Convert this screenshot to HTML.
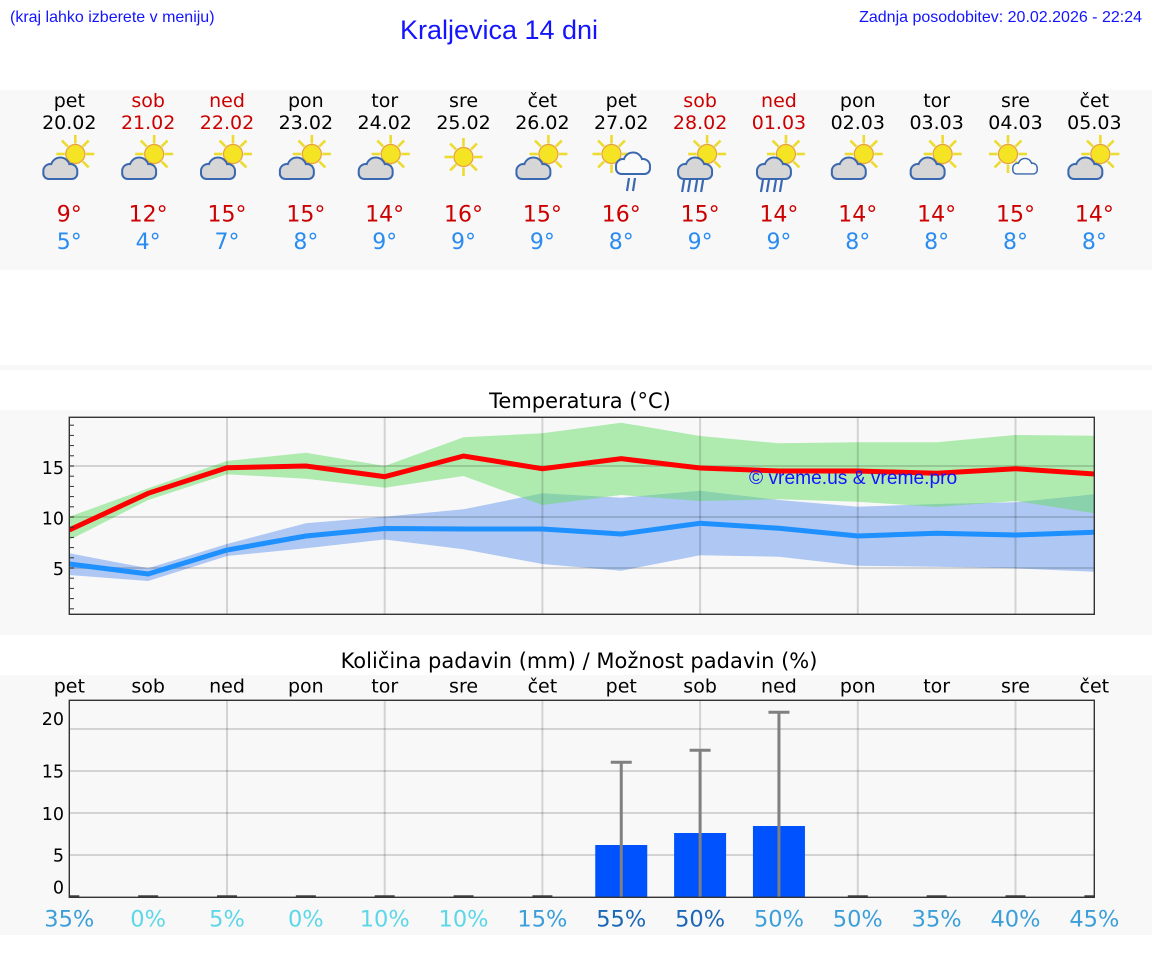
<!DOCTYPE html>
<html><head><meta charset="utf-8"><style>
html,body{margin:0;padding:0;background:#fff;}
body{width:1152px;height:975px;overflow:hidden;}
svg{display:block;}
.d{font-family:"DejaVu Sans","Liberation Sans",sans-serif;}
.l{font-family:"Liberation Sans",Arial,sans-serif;}
</style></head><body>
<svg width="1152" height="975" viewBox="0 0 1152 975" xmlns="http://www.w3.org/2000/svg">
<defs>
  <g id="cshape"><circle cx="-10" cy="3" r="6"/><circle cx="0" cy="-1" r="8.5"/><circle cx="10" cy="3" r="6"/><rect x="-16" y="1" width="32" height="9" rx="4.5"/></g>
  <g id="cloud"><use href="#cshape" fill="#3a68b0" stroke="#3a68b0" stroke-width="4"/><use href="#cshape" fill="#d6d6d6"/></g>
  <g id="wcloud"><use href="#cshape" fill="#3a68b0" stroke="#3a68b0" stroke-width="4"/><use href="#cshape" fill="#fafafa"/></g>
  <g id="sun">
    <g stroke="#ecdc30" stroke-width="2.6">
      <line x1="10.5" y1="0" x2="19" y2="0"/><line x1="-10.5" y1="0" x2="-19" y2="0"/>
      <line x1="0" y1="10.5" x2="0" y2="19"/><line x1="0" y1="-10.5" x2="0" y2="-19"/>
      <line x1="7.4" y1="7.4" x2="13.4" y2="13.4"/><line x1="-7.4" y1="-7.4" x2="-13.4" y2="-13.4"/>
      <line x1="7.4" y1="-7.4" x2="13.4" y2="-13.4"/><line x1="-7.4" y1="7.4" x2="-13.4" y2="13.4"/>
    </g>
    <circle r="9.5" fill="#f4e424" stroke="#e8a040" stroke-width="1.2"/>
  </g>
  <g id="pc"><use href="#sun" x="6" y="-3"/><use href="#cloud" x="-9" y="11"/></g>
  <g id="rain"><use href="#sun" x="7" y="-3"/><use href="#cloud" x="-5" y="11"/>
    <g stroke="#3a68b0" stroke-width="2.2"><line x1="-16" y1="23" x2="-18" y2="35"/><line x1="-10" y1="23" x2="-12" y2="35"/><line x1="-3" y1="23" x2="-5" y2="35"/><line x1="3" y1="23" x2="1" y2="35"/></g></g>
  <clipPath id="tc"><rect x="69.3" y="417.3" width="1025" height="197"/></clipPath>
  <clipPath id="pcp"><rect x="69.3" y="700.3" width="1025" height="197"/></clipPath>
</defs>

<!-- header -->
<text class="l" x="10" y="22" font-size="16" fill="#1414ff">(kraj lahko izberete v meniju)</text>
<text class="l" x="499" y="39" font-size="27" fill="#1414ff" text-anchor="middle">Kraljevica 14 dni</text>
<text class="l" x="1142" y="22" font-size="16" fill="#1414ff" text-anchor="end">Zadnja posodobitev: 20.02.2026 - 22:24</text>

<!-- panels -->
<rect x="0" y="90" width="1152" height="180" fill="#f8f8f8"/>
<rect x="0" y="365" width="1152" height="5" fill="#f8f8f8"/>
<rect x="0" y="410" width="1152" height="225" fill="#f8f8f8"/>
<rect x="0" y="675" width="1152" height="260" fill="#f8f8f8"/>

<!-- top day names -->
<g class="d" font-size="19" text-anchor="middle">
<text x="69.3" y="107" fill="#000">pet</text><text x="69.3" y="129" fill="#000">20.02</text>
<text x="148.15" y="107" fill="#cc0000">sob</text><text x="148.15" y="129" fill="#cc0000">21.02</text>
<text x="227" y="107" fill="#cc0000">ned</text><text x="227" y="129" fill="#cc0000">22.02</text>
<text x="305.85" y="107" fill="#000">pon</text><text x="305.85" y="129" fill="#000">23.02</text>
<text x="384.7" y="107" fill="#000">tor</text><text x="384.7" y="129" fill="#000">24.02</text>
<text x="463.55" y="107" fill="#000">sre</text><text x="463.55" y="129" fill="#000">25.02</text>
<text x="542.4" y="107" fill="#000">čet</text><text x="542.4" y="129" fill="#000">26.02</text>
<text x="621.25" y="107" fill="#000">pet</text><text x="621.25" y="129" fill="#000">27.02</text>
<text x="700.1" y="107" fill="#cc0000">sob</text><text x="700.1" y="129" fill="#cc0000">28.02</text>
<text x="778.95" y="107" fill="#cc0000">ned</text><text x="778.95" y="129" fill="#cc0000">01.03</text>
<text x="857.8" y="107" fill="#000">pon</text><text x="857.8" y="129" fill="#000">02.03</text>
<text x="936.65" y="107" fill="#000">tor</text><text x="936.65" y="129" fill="#000">03.03</text>
<text x="1015.5" y="107" fill="#000">sre</text><text x="1015.5" y="129" fill="#000">04.03</text>
<text x="1094.35" y="107" fill="#000">čet</text><text x="1094.35" y="129" fill="#000">05.03</text>
</g>

<!-- icons -->
<use href="#pc" x="69.3" y="157"/>
<use href="#pc" x="148.15" y="157"/>
<use href="#pc" x="227" y="157"/>
<use href="#pc" x="305.85" y="157"/>
<use href="#pc" x="384.7" y="157"/>
<use href="#sun" x="463.5" y="157"/>
<use href="#pc" x="542.4" y="157"/>
<g><use href="#sun" x="611.5" y="154"/><use href="#wcloud" x="633" y="163"/>
<g stroke="#3a68b0" stroke-width="2.2"><line x1="629" y1="178" x2="627" y2="191"/><line x1="635" y1="178" x2="633" y2="191"/></g></g>
<use href="#rain" x="700.1" y="157"/>
<use href="#rain" x="778.95" y="157"/>
<use href="#pc" x="857.8" y="157"/>
<use href="#pc" x="936.65" y="157"/>
<g><use href="#sun" x="1008" y="154"/><g transform="translate(1025,166) scale(0.72)"><use href="#wcloud"/></g></g>
<use href="#pc" x="1094.35" y="157"/>

<!-- temps -->
<g class="d" font-size="22" text-anchor="middle" fill="#cc0000">
<text x="69.3" y="221.5">9°</text><text x="148.15" y="221.5">12°</text><text x="227" y="221.5">15°</text><text x="305.85" y="221.5">15°</text><text x="384.7" y="221.5">14°</text><text x="463.55" y="221.5">16°</text><text x="542.4" y="221.5">15°</text><text x="621.25" y="221.5">16°</text><text x="700.1" y="221.5">15°</text><text x="778.95" y="221.5">14°</text><text x="857.8" y="221.5">14°</text><text x="936.65" y="221.5">14°</text><text x="1015.5" y="221.5">15°</text><text x="1094.35" y="221.5">14°</text>
</g>
<g class="d" font-size="22" text-anchor="middle" fill="#2a8cf0">
<text x="69.3" y="249">5°</text><text x="148.15" y="249">4°</text><text x="227" y="249">7°</text><text x="305.85" y="249">8°</text><text x="384.7" y="249">9°</text><text x="463.55" y="249">9°</text><text x="542.4" y="249">9°</text><text x="621.25" y="249">8°</text><text x="700.1" y="249">9°</text><text x="778.95" y="249">9°</text><text x="857.8" y="249">8°</text><text x="936.65" y="249">8°</text><text x="1015.5" y="249">8°</text><text x="1094.35" y="249">8°</text>
</g>

<!-- temperature chart -->
<text class="d" x="580" y="408" font-size="21" text-anchor="middle" fill="#000">Temperatura (°C)</text>
<g clip-path="url(#tc)">
<polygon fill="#6495ed" fill-opacity="0.5" points="69.3,553.3 148.15,568.3 227,544 305.85,523.3 384.7,516.7 463.55,509.3 542.4,493.3 621.25,497.7 700.1,490.7 778.95,500 857.8,506.7 936.65,504 1015.5,502.3 1094.35,494.3 1094.35,571.7 1015.5,568.3 936.65,566.7 857.8,565.7 778.95,556.7 700.1,555.3 621.25,570.7 542.4,564 463.55,549.3 384.7,539.5 305.85,548.3 227,556 148.15,581 69.3,575"/>
<polygon fill="#66dd66" fill-opacity="0.5" points="69.3,516.7 148.15,488.3 227,461 305.85,452.7 384.7,466 463.55,437.3 542.4,433.3 621.25,422.7 700.1,436 778.95,443.3 857.8,442.3 936.65,442.3 1015.5,435 1094.35,435.7 1094.35,513.3 1015.5,501 936.65,507 857.8,501.7 778.95,499.3 700.1,501 621.25,495 542.4,505 463.55,476 384.7,487.7 305.85,478.7 227,474.3 148.15,500 69.3,540"/>
<g stroke="#000" stroke-opacity="0.15" stroke-width="2">
<line x1="69" y1="466" x2="1095" y2="466"/><line x1="69" y1="517" x2="1095" y2="517"/><line x1="69" y1="568" x2="1095" y2="568"/>
<line x1="227" y1="417" x2="227" y2="615"/><line x1="384.7" y1="417" x2="384.7" y2="615"/><line x1="542.4" y1="417" x2="542.4" y2="615"/><line x1="700.1" y1="417" x2="700.1" y2="615"/><line x1="857.8" y1="417" x2="857.8" y2="615"/><line x1="1015.5" y1="417" x2="1015.5" y2="615"/>
</g>
<polyline fill="none" stroke="#1e90ff" stroke-width="5" stroke-linejoin="miter" points="69.3,564 148.15,574 227,550 305.85,536 384.7,528.5 463.55,529 542.4,529 621.25,534 700.1,523.3 778.95,528.3 857.8,536 936.65,533.3 1015.5,535 1094.35,532.3"/>
<polyline fill="none" stroke="#ff0000" stroke-width="5" points="69.3,530 148.15,493.3 227,467.7 305.85,466 384.7,476.7 463.55,456 542.4,468.7 621.25,458.7 700.1,468 778.95,471 857.8,471 936.65,473.3 1015.5,468.7 1094.35,474"/>
</g>
<text class="l" x="749" y="484" font-size="19.2" fill="#1414ff">© vreme.us &amp; vreme.pro</text>
<g stroke="#333" stroke-width="1">
<line x1="69" y1="425.2" x2="74" y2="425.2"/><line x1="69" y1="435.4" x2="74" y2="435.4"/><line x1="69" y1="445.6" x2="74" y2="445.6"/><line x1="69" y1="455.8" x2="74" y2="455.8"/><line x1="69" y1="466" x2="74" y2="466"/><line x1="69" y1="476.2" x2="74" y2="476.2"/><line x1="69" y1="486.4" x2="74" y2="486.4"/><line x1="69" y1="496.6" x2="74" y2="496.6"/><line x1="69" y1="506.8" x2="74" y2="506.8"/><line x1="69" y1="517" x2="74" y2="517"/><line x1="69" y1="527.2" x2="74" y2="527.2"/><line x1="69" y1="537.4" x2="74" y2="537.4"/><line x1="69" y1="547.6" x2="74" y2="547.6"/><line x1="69" y1="557.8" x2="74" y2="557.8"/><line x1="69" y1="568" x2="74" y2="568"/><line x1="69" y1="578.2" x2="74" y2="578.2"/><line x1="69" y1="588.4" x2="74" y2="588.4"/><line x1="69" y1="598.6" x2="74" y2="598.6"/><line x1="69" y1="608.8" x2="74" y2="608.8"/>
</g>
<rect x="69.3" y="417.3" width="1025" height="197" fill="none" stroke="#333" stroke-width="1.4"/>
<g class="d" font-size="17.5" text-anchor="end" fill="#000">
<text x="64" y="474">15</text><text x="64" y="524.5">10</text><text x="64" y="575">5</text>
</g>

<!-- precipitation chart -->
<text class="d" x="579" y="668" font-size="21" text-anchor="middle" fill="#000">Količina padavin (mm) / Možnost padavin (%)</text>
<g class="d" font-size="19" text-anchor="middle" fill="#000">
<text x="69.3" y="692.5">pet</text><text x="148.15" y="692.5">sob</text><text x="227" y="692.5">ned</text><text x="305.85" y="692.5">pon</text><text x="384.7" y="692.5">tor</text><text x="463.55" y="692.5">sre</text><text x="542.4" y="692.5">čet</text><text x="621.25" y="692.5">pet</text><text x="700.1" y="692.5">sob</text><text x="778.95" y="692.5">ned</text><text x="857.8" y="692.5">pon</text><text x="936.65" y="692.5">tor</text><text x="1015.5" y="692.5">sre</text><text x="1094.35" y="692.5">čet</text>
</g>
<g clip-path="url(#pcp)">
<g stroke="#000" stroke-opacity="0.15" stroke-width="2">
<line x1="69" y1="729" x2="1095" y2="729"/><line x1="69" y1="771" x2="1095" y2="771"/><line x1="69" y1="813" x2="1095" y2="813"/><line x1="69" y1="855" x2="1095" y2="855"/>
<line x1="227" y1="700" x2="227" y2="898"/><line x1="384.7" y1="700" x2="384.7" y2="898"/><line x1="542.4" y1="700" x2="542.4" y2="898"/><line x1="700.1" y1="700" x2="700.1" y2="898"/><line x1="857.8" y1="700" x2="857.8" y2="898"/><line x1="1015.5" y1="700" x2="1015.5" y2="898"/>
</g>
<g fill="#0052ff">
<rect x="595.25" y="845" width="52" height="53"/>
<rect x="674.1" y="833" width="52" height="65"/>
<rect x="752.95" y="826" width="52" height="72"/>
</g>
<g stroke="#808080" stroke-width="3">
<line x1="621.25" y1="897" x2="621.25" y2="762.3"/><line x1="610.75" y1="762.3" x2="631.75" y2="762.3"/>
<line x1="700.1" y1="897" x2="700.1" y2="750.3"/><line x1="689.6" y1="750.3" x2="710.6" y2="750.3"/>
<line x1="778.95" y1="897" x2="778.95" y2="712.3"/><line x1="768.45" y1="712.3" x2="789.45" y2="712.3"/>
</g>
<g stroke="#444" stroke-width="2.5">
<line x1="59.3" y1="896.5" x2="79.3" y2="896.5"/><line x1="138.15" y1="896.5" x2="158.15" y2="896.5"/><line x1="217" y1="896.5" x2="237" y2="896.5"/><line x1="295.85" y1="896.5" x2="315.85" y2="896.5"/><line x1="374.7" y1="896.5" x2="394.7" y2="896.5"/><line x1="453.55" y1="896.5" x2="473.55" y2="896.5"/><line x1="532.4" y1="896.5" x2="552.4" y2="896.5"/><line x1="847.8" y1="896.5" x2="867.8" y2="896.5"/><line x1="926.65" y1="896.5" x2="946.65" y2="896.5"/><line x1="1005.5" y1="896.5" x2="1025.5" y2="896.5"/><line x1="1084.35" y1="896.5" x2="1104.35" y2="896.5"/>
</g>
</g>
<rect x="69.3" y="700.3" width="1025" height="197" fill="none" stroke="#333" stroke-width="1.4"/>
<g class="d" font-size="17.5" text-anchor="end" fill="#000">
<text x="64" y="725">20</text><text x="64" y="777.7">15</text><text x="64" y="820">10</text><text x="64" y="861.7">5</text><text x="64" y="893.3">0</text>
</g>
<g class="d" font-size="22.5" text-anchor="middle">
<text x="69.3" y="926.5" fill="#3c9fd9">35%</text>
<text x="148.15" y="926.5" fill="#5dd7e8">0%</text>
<text x="227" y="926.5" fill="#5dd7e8">5%</text>
<text x="305.85" y="926.5" fill="#5dd7e8">0%</text>
<text x="384.7" y="926.5" fill="#5dd7e8">10%</text>
<text x="463.55" y="926.5" fill="#5dd7e8">10%</text>
<text x="542.4" y="926.5" fill="#3c9fd9">15%</text>
<text x="621.25" y="926.5" fill="#1c68b6">55%</text>
<text x="700.1" y="926.5" fill="#1c68b6">50%</text>
<text x="778.95" y="926.5" fill="#3c9fd9">50%</text>
<text x="857.8" y="926.5" fill="#3c9fd9">50%</text>
<text x="936.65" y="926.5" fill="#3c9fd9">35%</text>
<text x="1015.5" y="926.5" fill="#3c9fd9">40%</text>
<text x="1094.35" y="926.5" fill="#3c9fd9">45%</text>
</g>
</svg>
</body></html>
